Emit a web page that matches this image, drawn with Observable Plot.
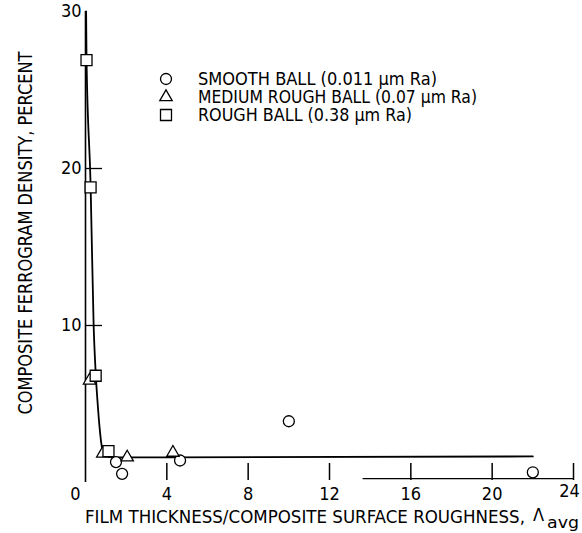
<!DOCTYPE html>
<html><head><meta charset="utf-8">
<script src="https://cdn.jsdelivr.net/npm/d3@7"></script>
<script src="https://cdn.jsdelivr.net/npm/@observablehq/plot@0.6"></script>
<style>
body{margin:0;background:#fff}
#chart{position:relative;width:582px;height:533px}
</style>
</head><body><div id="chart"></div>
<script>
// Smooth ball (0.011 um Ra)
const smoothX = [1.5, 1.8, 4.65, 10.0, 22.0];
const smoothY = [1.3, 0.55, 1.4, 3.9, 0.65];
// Medium rough ball (0.07 um Ra)
const mediumX = [0.2, 0.85, 2.05, 4.3];
const mediumY = [6.5, 1.85, 1.6, 1.9];
// Rough ball (0.38 um Ra)
const roughX = [0.05, 0.25, 0.5, 1.13];
const roughY = [26.9, 18.8, 6.8, 2.0];
// Faired curve through the data
const curveX = [0.03, 0.05, 0.25, 0.4, 0.5, 0.6, 0.7, 0.8, 0.95, 1.3, 4, 22];
const curveY = [30, 27, 19, 10, 7, 5, 3.4, 2.3, 1.75, 1.6, 1.6, 1.66];
// partial baseline segment visible in the original
const baseFragX = [13.65, 24];
const baseFragY = [0.25, 0.25];

const xTicks = [4, 8, 12, 16, 20, 24];
const xLabelTicks = [4, 8, 12, 16, 20];
const xZeroTick = [0];
const xLastTick = [24];
const yTicks = [10, 20, 30];
const yTickMarks = [10, 20];
const legendLabels = ["SMOOTH BALL (0.011 \u00b5m Ra)", "MEDIUM ROUGH BALL (0.07 \u00b5m Ra)", "ROUGH BALL (0.38 \u00b5m Ra)"];
const legendSymbols = ["circle", "triangle", "square"];
const xTitle = "FILM THICKNESS/COMPOSITE SURFACE ROUGHNESS,";
const xTitleSym = "\u039b";
const xTitleSub = "avg";
const yTitle = "COMPOSITE FERROGRAM DENSITY, PERCENT";

const FONT = "'Liberation Sans Narrow', 'DejaVu Sans Condensed', 'Arial Narrow', sans-serif";

const zip = (xs, ys) => xs.map((x, i) => ({x, y: ys[i]}));
const smooth = zip(smoothX, smoothY);
const medium = zip(mediumX, mediumY);
const rough = zip(roughX, roughY);
const curve = zip(curveX, curveY);
const baseFrag = zip(baseFragX, baseFragY);

const plot = Plot.plot({
  width: 582,
  height: 533,
  marginLeft: 85,
  marginRight: 9,
  marginTop: 11,
  marginBottom: 51,
  style: {fontFamily: FONT, fontSize: "17px", color: "black", background: "white"},
  x: {domain: [0, 24]},
  y: {domain: [0, 30]},
  marks: [
    Plot.ruleX([0], {strokeWidth: 1.6}),
    Plot.line(baseFrag, {x: "x", y: "y", strokeWidth: 1.3}),
    // y tick labels
    Plot.axisY({ticks: yTicks, tickSize: 0, tickPadding: 4, fontSize: 18, label: null}),
    // y inward tick marks
    Plot.axisY({ticks: yTickMarks, tickSize: 17, dx: 17, tickFormat: () => "", label: null, strokeWidth: 1.3}),
    // x tick marks (above the baseline)
    Plot.axisX({ticks: xTicks, tickSize: 17, dy: -19, tickFormat: () => "", label: null, strokeWidth: 1.5}),
    // x tick labels
    Plot.axisX({ticks: xLabelTicks, tickSize: 0, tickPadding: 5, fontSize: 18, label: null}),
    Plot.axisX({ticks: xZeroTick, tickSize: 0, tickPadding: 5, dx: -10, fontSize: 18, label: null}),
    Plot.axisX({ticks: xLastTick, tickSize: 0, tickPadding: 2, dx: -4, fontSize: 18, label: null}),
    Plot.line(curve, {x: "x", y: "y", curve: "monotone-x", strokeWidth: 1.8}),
    Plot.dot(smooth, {x: "x", y: "y", symbol: "circle", r: 5.5, fill: "white", stroke: "black", strokeWidth: 1.3}),
    Plot.dot(medium, {x: "x", y: "y", symbol: "triangle", r: 4.6, fill: "white", stroke: "black", strokeWidth: 1.3}),
    Plot.dot(rough, {x: "x", y: "y", symbol: "square", r: 6.2, fill: "white", stroke: "black", strokeWidth: 1.3})
  ]
});
document.getElementById("chart").appendChild(plot);

const svg = d3.select(plot);
// Legend
const symMap = {circle: d3.symbolCircle, triangle: d3.symbolTriangle, square: d3.symbolSquare};
const rMap = {circle: 5.5, triangle: 4.6, square: 6.2};
const rowY = [79, 97, 115];
const rowLen = [239, 279, 214];
const lg = svg.append("g").attr("font-family", FONT).attr("font-size", 17).attr("text-anchor", "start");
legendLabels.forEach((lab, i) => {
  const s = legendSymbols[i];
  lg.append("path")
    .attr("d", d3.symbol(symMap[s], Math.PI * rMap[s] * rMap[s])())
    .attr("transform", `translate(166,${rowY[i]})`)
    .attr("fill", "white").attr("stroke", "black").attr("stroke-width", 1.3);
  lg.append("text")
    .attr("x", 198).attr("y", rowY[i]).attr("dy", "0.36em")
    .attr("text-anchor", "start")
    .attr("textLength", rowLen[i]).attr("lengthAdjust", "spacingAndGlyphs")
    .text(lab);
});
// Y title
svg.append("text")
  .attr("transform", "translate(25.5,233) rotate(-90)")
  .attr("text-anchor", "middle").attr("dy", "0.36em")
  .attr("font-family", FONT).attr("font-size", 19)
  .attr("textLength", 363).attr("lengthAdjust", "spacingAndGlyphs")
  .text(yTitle);
// X title
const xt = svg.append("g").attr("font-family", FONT).attr("text-anchor", "start");
xt.append("text").attr("x", 85).attr("y", 523).attr("font-size", 18).attr("text-anchor", "start")
  .attr("textLength", 440).attr("lengthAdjust", "spacingAndGlyphs").text(xTitle);
xt.append("text").attr("x", 533).attr("y", 521).attr("font-size", 18).attr("text-anchor", "start").text(xTitleSym);
xt.append("text").attr("x", 547).attr("y", 528).attr("font-size", 15).attr("text-anchor", "start")
  .attr("textLength", 32).attr("lengthAdjust", "spacingAndGlyphs").text(xTitleSub);
</script>
</body></html>
